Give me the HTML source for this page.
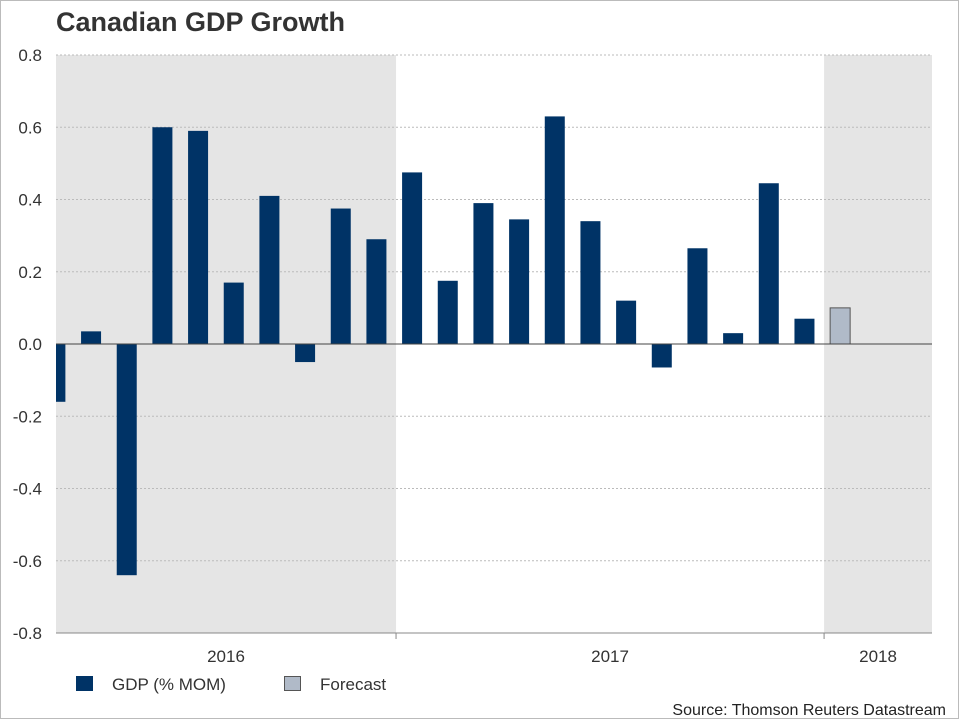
<!DOCTYPE html>
<html><head><meta charset="utf-8"><style>
body{margin:0;background:#fff;}
svg{display:block;font-family:"Liberation Sans",Arial,sans-serif;}
</style></head><body>
<svg id="chart" width="960" height="720" viewBox="0 0 960 720">
<rect x="0.5" y="0.5" width="958" height="718" fill="#fff" stroke="#bbb"/>
<text x="56" y="31" font-size="27" font-weight="bold" fill="#333">Canadian GDP Growth</text>
<g id="plot"></g>
<g>
<rect x="76" y="676" width="17" height="15" fill="#003366"/>
<text x="112" y="690" font-size="17" fill="#333">GDP (% MOM)</text>
<rect x="284.5" y="676.5" width="16" height="14" fill="#b0bac8" stroke="#555"/>
<text x="320" y="690" font-size="17" fill="#333">Forecast</text>
</g>
<text x="946" y="715" font-size="16" fill="#222" text-anchor="end">Source: Thomson Reuters Datastream</text>
</svg>
<script>
const gdpValues=[-0.16,0.035,-0.64,0.6,0.59,0.17,0.41,-0.05,0.375,0.29,0.475,0.175,0.39,0.345,0.63,0.34,0.12,-0.065,0.265,0.03,0.445,0.07];
const forecastValues=[0.1];
const firstMonthIndex=2; // March 2016, months counted from Jan 2016
const yTicks=[0.8,0.6,0.4,0.2,0.0,-0.2,-0.4,-0.6,-0.8];
const yearLabels=["2016","2017","2018"];
const shadedYears=[0,2];

const L=56,R=932,T=55,B=633,slot=35.67,x0=-32;
const y=v=>T+(0.8-v)/1.6*(B-T);
const xm=m=>x0+m*slot;
const NS="http://www.w3.org/2000/svg";
const g=document.getElementById('plot');
function mk(t,a){const e=document.createElementNS(NS,t);for(const k in a)e.setAttribute(k,a[k]);g.appendChild(e);return e;}
shadedYears.forEach(yi=>{
 const a=Math.max(L,xm(yi*12)),b=Math.min(R,xm(yi*12+12));
 const r=mk('rect',{x:a,y:T,width:b-a,height:B-T,fill:'#e5e5e5'});
 
 
});
yTicks.forEach(v=>{
 if(v!==0){const l=mk('line',{x1:L,x2:R,y1:y(v),y2:y(v),stroke:'#bbb','stroke-dasharray':'2,2'});
 
 }
 const t=mk('text',{x:42,y:y(v)+6,'font-size':17,fill:'#333','text-anchor':'end'});
 t.textContent=v.toFixed(1);
 
 
});
const bw=20;
function bar(v,m,fill,stroke,name){
 const cx=xm(m+0.45);let a=cx-bw/2,b=cx+bw/2;a=Math.max(a,L);b=Math.min(b,R);
 const r=mk('rect',{x:a,y:Math.min(y(v),y(0)),width:b-a,height:Math.abs(y(v)-y(0)),fill:fill});
 if(stroke){r.setAttribute('stroke',stroke);}
 
 
}
gdpValues.forEach((v,i)=>bar(v,firstMonthIndex+i,'#003366',null,'gdp-bar'));
forecastValues.forEach((v,i)=>bar(v,firstMonthIndex+gdpValues.length+i,'#b0bac8','#555','forecast-bar'));
const z=mk('line',{x1:L,x2:R,y1:y(0),y2:y(0),stroke:'#444','stroke-width':1});


const ax=mk('line',{x1:L,x2:R,y1:B,y2:B,stroke:'#888'});


yearLabels.forEach((lab,i)=>{
 const a=Math.max(L,xm(i*12)),b=Math.min(R,xm(i*12+12));
 if(xm(i*12)>L){const tk=mk('line',{x1:xm(i*12),x2:xm(i*12),y1:B,y2:B+6,stroke:'#888'});
 
 }
 const t=mk('text',{x:(a+b)/2,y:662,'font-size':17,fill:'#333','text-anchor':'middle'});
 t.textContent=lab;
 
 
});
</script>
</body></html>
